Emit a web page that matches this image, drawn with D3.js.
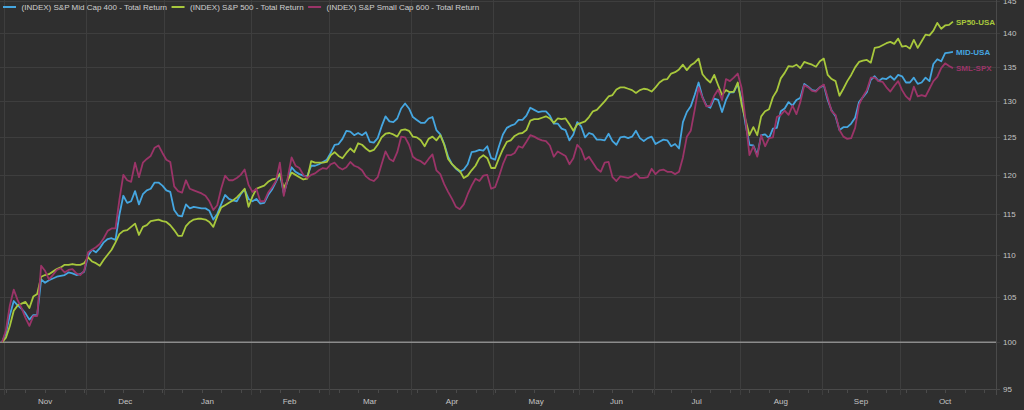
<!DOCTYPE html>
<html><head><meta charset="utf-8">
<script src="https://cdn.jsdelivr.net/npm/d3@7"></script>
<style>html,body{margin:0;padding:0;background:#2f2f2f;overflow:hidden}svg{display:block}</style>
</head><body><svg id="c" width="1024" height="410"></svg>
<script>
// ---- data ----
const monthLabels = ['Nov','Dec','Jan','Feb','Mar','Apr','May','Jun','Jul','Aug','Sep','Oct'];
const monthTradingDays = [21,20,22,20,21,21,22,19,22,21,20,23];
const seriesNames = ['(INDEX) S&P Mid Cap 400 - Total Return','(INDEX) S&P 500 - Total Return','(INDEX) S&P Small Cap 600 - Total Return'];
const seriesTags = ['MID-USA','SP50-USA','SML-SPX'];
const yTicks = [95,100,105,110,115,120,125,130,135,140,145];

const midCap400 = [
100,101.0,103.0,104.6,104.1,103.7,103.2,102.5,103.0,103.0,
107.1,106.7,107.0,107.2,107.4,107.5,107.6,107.9,107.8,107.6,
107.7,108.0,109.9,110.6,110.3,110.8,111.5,111.9,112.0,111.8,
114.9,117.3,116.4,116.6,117.9,116.2,117.5,118.0,118.2,119.0,
119.0,118.6,118.0,117.8,115.5,114.8,114.7,116.2,115.7,115.9,
115.8,115.7,115.7,115.4,114.3,115.0,116.2,117.4,116.9,116.7,
116.6,117.5,118.1,116.9,116.6,116.9,116.3,116.4,117.4,118.1,
119.1,120.2,117.6,119.3,121.0,120.4,120.1,119.9,119.8,121.2,
121.2,121.4,121.7,122.0,122.9,124.0,124.1,124.8,125.9,125.8,
125.3,125.6,125.3,125.7,124.4,124.3,124.9,126.5,127.9,127.2,
127.1,127.6,129.0,129.7,129.0,127.8,127.4,127.0,127.0,127.6,
127.8,126.0,125.4,124.1,122.4,121.4,120.8,120.4,120.7,121.4,
123.0,123.1,123.3,123.2,123.8,122.2,122.0,123.8,125.4,126.3,
126.6,126.8,127.4,127.4,128.0,129.1,128.8,128.5,128.6,128.6,
128.0,126.9,126.9,126.2,126.0,124.6,125.4,127.1,126.5,125.0,
125.6,125.4,124.7,124.7,124.6,125.5,124.5,124.0,125.0,125.1,
124.9,125.1,125.9,124.9,124.5,124.9,125.1,124.1,124.4,124.7,
124.6,123.8,124.1,123.5,127.1,128.5,129.3,130.9,132.7,130.6,
129.4,129.1,130.4,130.2,128.5,130.2,131.3,131.3,132.5,130.2,
126.8,124.0,123.9,122.6,125.3,125.4,124.9,126.2,126.3,128.6,
129.0,129.9,129.4,130.2,130.5,132.5,132.1,131.6,131.5,132.0,
132.3,130.2,128.7,127.9,126.0,126.4,126.4,126.9,127.7,129.9,
130.6,131.3,133.1,133.6,132.9,133.3,133.2,133.6,133.1,133.8,
133.6,132.7,132.7,133.4,132.5,132.7,133.4,132.9,135.4,136.1,
135.8,137.0,137.1,137.2];

const sp500 = [
100,100.5,101.8,103.5,104.1,104.3,104.5,103.8,105.1,105.4,
107.4,107.6,107.7,108.0,108.3,108.5,108.8,108.8,108.9,108.8,
108.8,109.0,109.7,109.2,109.0,108.7,109.4,110.0,110.6,111.5,
112.5,112.9,113.0,113.4,113.8,112.4,113.4,113.6,114.1,114.2,
114.3,114.1,114.0,113.6,113.0,112.3,112.3,113.5,114.0,114.3,
114.4,114.4,114.3,114.0,113.4,114.7,115.8,116.1,116.4,116.7,
117.1,117.6,118.2,115.9,117.2,118.2,118.4,118.6,119.1,119.4,
119.5,120.1,118.3,119.3,120.3,120.0,119.7,119.4,119.5,121.8,
121.6,121.6,121.6,121.7,122.6,123.0,122.5,122.2,122.9,123.5,
123.0,124.2,124.0,123.5,123.1,123.3,124.0,125.0,125.5,125.6,
125.4,125.1,126.0,126.1,125.9,125.1,125.0,124.6,123.8,124.8,
125.1,124.6,125.3,124.0,122.1,121.4,120.9,120.5,119.6,119.9,
120.6,121.2,122.2,122.6,122.2,120.9,120.9,122.2,123.4,124.4,
124.6,125.2,125.5,125.6,126.0,127.3,127.5,127.5,127.7,127.9,
127.6,127.0,127.6,127.5,127.6,126.8,125.9,126.8,127.0,127.2,
127.8,128.6,128.8,129.4,130.0,130.7,130.9,131.7,132.0,132.0,
131.8,131.6,131.2,131.6,131.8,131.7,131.4,132.0,132.7,133.1,
133.2,134.0,134.2,134.6,135.3,134.5,135.2,135.6,136.2,133.9,
133.2,132.7,133.8,132.3,130.9,131.6,131.3,131.4,132.7,129.6,
127.4,125.3,126.4,125.3,127.9,128.6,128.9,130.6,131.5,133.3,
134.1,135.1,135.0,135.3,134.8,135.7,135.5,135.3,135.0,135.8,
136.2,133.8,133.2,132.9,130.8,131.8,132.9,133.8,134.9,135.7,
135.9,136.0,135.6,137.8,137.9,138.2,138.5,138.7,138.4,139.2,
138.0,138.1,137.7,139.0,137.8,138.8,139.8,139.7,140.4,141.6,
140.7,141.2,141.3,141.8];

const smallCap600 = [
100,101.3,104.1,105.9,104.7,103.8,102.7,101.8,102.9,102.9,
108.7,108.1,107.1,107.6,108.2,108.4,107.9,108.2,108.3,107.8,
107.6,108.1,110.3,110.6,110.9,111.3,112.0,112.9,113.2,113.2,
116.8,120.0,119.3,119.1,121.6,119.7,121.6,122.1,122.5,123.6,
123.9,122.9,122.0,121.7,118.5,117.9,117.7,119.3,118.2,118.0,
117.8,117.6,117.3,116.6,115.5,116.1,118.2,119.9,119.3,119.3,
119.6,120.0,120.7,118.7,117.8,118.2,116.6,116.6,117.7,118.4,
119.2,121.6,117.3,119.6,122.3,121.2,120.9,120.0,119.6,120.0,
120.2,120.6,120.9,120.8,121.4,121.6,121.0,120.7,121.0,121.7,
121.2,121.0,120.6,119.8,119.4,119.2,119.7,121.4,123.1,122.1,
121.8,123.0,125.1,125.0,124.0,122.4,122.0,121.8,121.4,122.1,
122.7,120.6,120.1,118.8,117.8,116.9,115.9,115.6,116.2,117.5,
118.6,119.5,119.2,119.9,120.0,118.2,118.4,119.8,121.4,122.6,
122.6,122.9,123.8,123.6,124.4,125.3,125.1,124.8,124.6,124.5,
123.9,122.4,123.1,122.8,122.5,121.4,122.2,124.0,123.4,122.0,
122.4,121.6,120.8,120.4,121.6,121.7,119.7,119.2,119.8,119.7,
119.6,119.8,120.2,119.6,119.6,119.7,120.8,120.1,120.6,120.7,
120.4,120.4,120.1,120.4,122.3,125.1,125.9,128.8,132.0,130.5,
129.3,129.4,130.8,131.7,130.2,133.2,132.9,133.4,134.0,131.9,
127.4,122.6,123.8,122.4,125.3,123.8,124.9,125.0,127.8,128.1,
128.7,128.1,129.4,128.2,129.9,132.3,132.0,131.5,131.4,132.0,
132.4,130.5,128.6,128.1,126.0,125.1,124.8,124.9,126.3,129.5,
130.7,131.6,133.4,133.4,132.9,132.8,132.0,131.4,132.2,132.9,
131.6,130.7,130.2,132.1,130.7,130.9,130.7,131.8,132.9,133.5,
134.8,135.5,135.1,134.8];

const seriesColors = ['#45a6e0','#a8c83c','#9b3468'];

// ---- layout ----
const svg = d3.select('#c');
const FONT = '"Liberation Sans", Arial, sans-serif';
const firstIdx = 1;
const totalSpan = firstIdx + d3.sum(monthTradingDays) - 0.5; // 252.5
const x = d3.scaleLinear().domain([0, 254]).range([2, 996]);
const y = d3.scaleLog().domain([95, 145]).range([389.4, 1.1]);
const plotRight = 996, plotBottom = 390;

svg.append('rect').attr('width',1024).attr('height',410).attr('fill','#2f2f2f');

// month boundaries
let b = firstIdx - 0.5;
const bounds = [b];
monthTradingDays.forEach(n => { b += n; bounds.push(b); });

// horizontal gridlines
svg.append('g').selectAll('line').data(yTicks).join('line')
  .attr('x1',0).attr('x2',1000)
  .attr('y1',d=>Math.round(y(d))+0.5).attr('y2',d=>Math.round(y(d))+0.5)
  .attr('stroke',d=>d===95?'#4a4a4a':'#3e3e3e').attr('stroke-width',1);

// vertical month gridlines
svg.append('g').selectAll('line').data(bounds.slice(0,-1)).join('line')
  .attr('x1',d=>Math.round(x(d))+0.5).attr('x2',d=>Math.round(x(d))+0.5)
  .attr('y1',0).attr('y2',plotBottom+5)
  .attr('stroke','#3e3e3e').attr('stroke-width',1);

// minor ticks on bottom axis (weekly)
const minor = d3.range(firstIdx, 253, 5);
svg.append('g').selectAll('line').data(minor).join('line')
  .attr('x1',d=>Math.round(x(d))+0.5).attr('x2',d=>Math.round(x(d))+0.5)
  .attr('y1',plotBottom).attr('y2',plotBottom+3)
  .attr('stroke','#4a4a4a');

// right axis line
svg.append('line').attr('x1',plotRight+0.5).attr('x2',plotRight+0.5)
  .attr('y1',0).attr('y2',plotBottom+5).attr('stroke','#4a4a4a');

// 100 baseline
svg.append('line').attr('x1',0).attr('x2',plotRight)
  .attr('y1',y(100)).attr('y2',y(100))
  .attr('stroke','#8c8c8c').attr('stroke-width',1.5);

// y tick labels
svg.append('g').selectAll('text').data(yTicks).join('text')
  .attr('x',1003).attr('y',d=>y(d)+3)
  .attr('font-family',FONT).attr('font-size',8).attr('fill','#c4c4c4')
  .text(d=>d);

// month labels
svg.append('g').selectAll('text').data(monthLabels).join('text')
  .attr('x',(d,i)=>x((bounds[i]+bounds[i+1])/2)).attr('y',404)
  .attr('text-anchor','middle')
  .attr('font-family',FONT).attr('font-size',8).attr('fill','#c4c4c4')
  .text(d=>d);

// series lines
const series = [midCap400, sp500, smallCap600];
const line = d3.line().x((d,i)=>x(i)).y(d=>y(d));
svg.append('g').selectAll('path').data(series).join('path')
  .attr('d',line).attr('fill','none')
  .attr('stroke',(d,i)=>seriesColors[i]).attr('stroke-width',1.8)
  .attr('stroke-linejoin','round');

// end tags
svg.append('g').selectAll('text').data(series).join('text')
  .attr('x',956).attr('y',d=>y(d[d.length-1])+3)
  .attr('font-family',FONT).attr('font-size',8).attr('font-weight','bold')
  .attr('fill',(d,i)=>seriesColors[i])
  .text((d,i)=>seriesTags[i]);

// legend
const lg = svg.append('g');
let cx = 3;
seriesNames.forEach((name,i)=>{
  lg.append('line').attr('x1',cx).attr('x2',cx+13).attr('y1',7).attr('y2',7)
    .attr('stroke',seriesColors[i]).attr('stroke-width',2);
  const t = lg.append('text').attr('x',cx+18.5).attr('y',10)
    .attr('font-family',FONT).attr('font-size',8).attr('fill','#d0d0d0').text(name);
  cx = cx + 18.5 + t.node().getComputedTextLength() + 4.5;
});
</script></body></html>
